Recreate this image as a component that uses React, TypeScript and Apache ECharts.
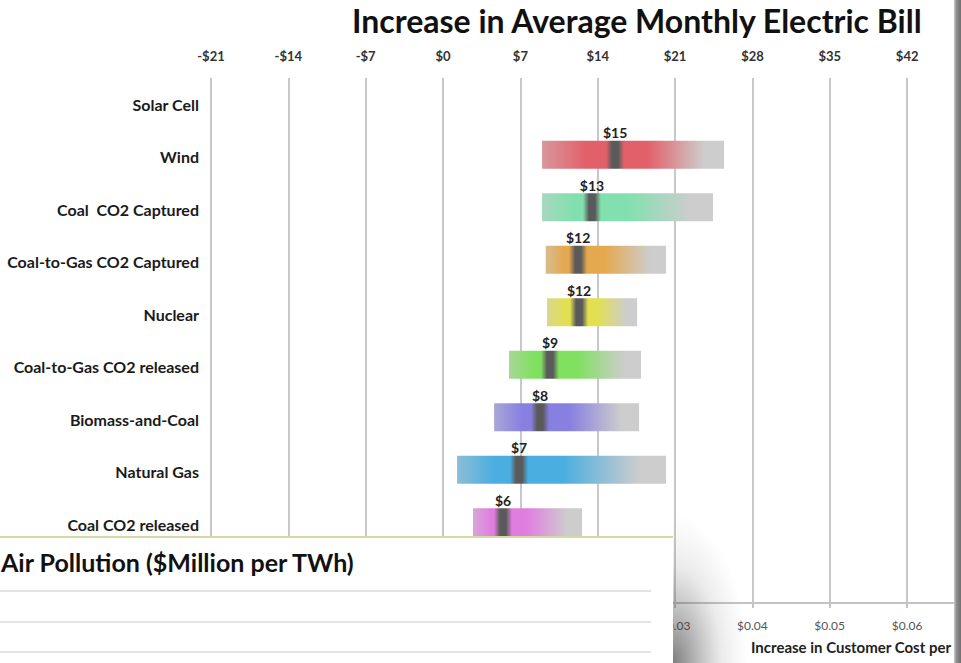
import React, { useEffect, useRef } from "react";
import * as echarts from "echarts";

const categories = [
  "Solar Cell",
  "Wind",
  "Coal  CO2 Captured",
  "Coal-to-Gas CO2 Captured",
  "Nuclear",
  "Coal-to-Gas CO2 released",
  "Biomass-and-Coal",
  "Natural Gas",
  "Coal CO2 released",
  "",
];
const lowValues = [null, 8.96, 8.96, 9.29, 9.41, 5.97, 4.62, 1.27, 2.71];
const midValues = [null, 15.57, 13.48, 12.22, 12.31, 9.68, 8.78, 6.88, 5.43];
const highValues = [null, 25.43, 24.43, 20.18, 17.56, 17.92, 17.74, 20.18, 12.58];
const labelValues = [null, 15, 13, 12, 12, 9, 8, 7, 6];
const barColors = [
  null,
  "#e2606a",
  "#82e0b0",
  "#e4a84e",
  "#e2e04e",
  "#80e060",
  "#8880e0",
  "#4aaee0",
  "#e07ee0",
];
const topTicks = [-21, -14, -7, 0, 7, 14, 21, 28, 35, 42];
const costTicks = [0.03, 0.04, 0.05, 0.06];

const TITLE = "Increase in Average Monthly Electric Bill";
const COST_TITLE = "Increase in Customer Cost per";
const PANEL_TITLE = "Air Pollution ($Million per TWh)";

function mix(hex: string, other: string, t: number) {
  const a = parseInt(hex.slice(1), 16);
  const b = parseInt(other.slice(1), 16);
  const r = Math.round(((a >> 16) & 255) * (1 - t) + ((b >> 16) & 255) * t);
  const g = Math.round(((a >> 8) & 255) * (1 - t) + ((b >> 8) & 255) * t);
  const bl = Math.round((a & 255) * (1 - t) + (b & 255) * t);
  return `rgb(${r},${g},${bl})`;
}

export default function App() {
  const ref = useRef<HTMLDivElement>(null);
  useEffect(() => {
    if (!ref.current) return;
    const chart = echarts.init(ref.current, undefined, { renderer: "svg" });
    const data = categories
      .map((_, i) =>
        lowValues[i] == null
          ? null
          : [lowValues[i], i, highValues[i], midValues[i], labelValues[i]]
      )
      .filter((d) => d != null);

    const renderItem = (params: any, api: any) => {
      const idx = api.value(1);
      const p0 = api.coord([api.value(0), idx]);
      const p1 = api.coord([api.value(2), idx]);
      const pm = api.coord([api.value(3), idx]);
      const color = barColors[idx] as string;
      const h = 28;
      const cy = p0[1] - 2;
      const w = p1[0] - p0[0];
      const off = (px: number) => Math.max(0, Math.min(1, (px - p0[0]) / w));
      const gray = "#cdcdcd";
      const dark = "#5a5a5a";
      const rightLen = p1[0] - pm[0];
      const stops = [
        { offset: 0, color: mix(color, gray, 0.5) },
        { offset: off(p0[0] + (pm[0] - p0[0]) * 0.6), color },
        { offset: off(pm[0] - 9), color },
        { offset: off(pm[0] - 3), color: dark },
        { offset: off(pm[0] + 3), color: dark },
        { offset: off(pm[0] + 9), color },
        { offset: off(pm[0] + rightLen * 0.3), color },
        { offset: off(pm[0] + rightLen * 0.82), color: gray },
        { offset: 1, color: gray },
      ];
      return {
        type: "group",
        children: [
          {
            type: "rect",
            shape: { x: p0[0], y: cy - h / 2, width: w, height: h },
            style: { fill: new echarts.graphic.LinearGradient(0, 0, 1, 0, stops) },
          },
          {
            type: "text",
            style: {
              text: "$" + api.value(4),
              x: pm[0],
              y: cy - h / 2 - 8,
              align: "center",
              verticalAlign: "middle",
              fontFamily: "Lato",
              fontWeight: 700,
              fontSize: 14,
              fill: "#222",
            },
          },
        ],
      };
    };

    chart.setOption({
      animation: false,
      textStyle: { fontFamily: "Lato" },
      title: {
        text: TITLE,
        left: 352,
        top: 4,
        padding: 0,
        textStyle: { fontFamily: "Lato", fontWeight: 700, fontSize: 32, color: "#111" },
      },
      grid: { left: 211, right: 6, top: 78, bottom: 60, containLabel: false },
      xAxis: [
        {
          type: "value",
          position: "top",
          min: topTicks[0],
          max: 46.33,
          interval: 7,
          axisLine: { show: false },
          axisTick: { show: false },
          axisLabel: {
            showMaxLabel: false,
            margin: 16,
            fontFamily: "Lato",
            fontWeight: 700,
            fontSize: 13,
            color: "#333",
            formatter: (v: number) =>
              topTicks.includes(v) ? (v < 0 ? "-$" + Math.abs(v) : "$" + v) : "",
          },
          splitLine: { show: true, lineStyle: { color: "#c8c8c8", width: 2 } },
        },
        {
          type: "value",
          position: "bottom",
          min: -0.03,
          max: 0.0662,
          interval: 0.01,
          axisLine: { show: true, lineStyle: { color: "#c4c4c4", width: 2 } },
          axisTick: { show: true, length: 5, lineStyle: { color: "#c4c4c4", width: 2 } },
          axisLabel: {
            showMaxLabel: false,
            margin: 16,
            fontFamily: "Lato",
            fontSize: 12,
            color: "#555",
            formatter: (v: number) => {
              const r = Math.round(v * 100) / 100;
              return costTicks.includes(r) ? "$" + r.toFixed(2) : "";
            },
          },
          splitLine: { show: false },
        },
      ],
      yAxis: {
        type: "category",
        inverse: true,
        data: categories,
        axisLine: { show: false },
        axisTick: { show: false },
        splitLine: { show: false },
        axisLabel: {
          margin: 12,
          fontFamily: "Lato",
          fontWeight: 700,
          fontSize: 16,
          color: "#1a1a1a",
        },
      },
      series: [
        {
          type: "custom",
          renderItem,
          xAxisIndex: 0,
          yAxisIndex: 0,
          encode: { x: [0, 2, 3], y: 1 },
          data,
          z: 5,
        },
      ],
      graphic: [
        {
          type: "text",
          left: 751,
          top: 639,
          z: 50,
          style: {
            text: COST_TITLE,
            fontFamily: "Lato",
            fontWeight: 700,
            fontSize: 15,
            fill: "#222",
          },
        },
        {
          type: "rect",
          x: 673,
          y: 513,
          scaleX: 0.5,
          shape: { x: 0, y: 0, width: 150, height: 150 },
          z: 90,
          style: {
            fill: new echarts.graphic.RadialGradient(0, 1, 1, [
              { offset: 0, color: "rgba(40,40,40,0.6)" },
              { offset: 0.3, color: "rgba(60,60,60,0.38)" },
              { offset: 0.65, color: "rgba(90,90,90,0.12)" },
              { offset: 1, color: "rgba(120,120,120,0)" },
            ]),
          },
        },
        {
          type: "rect",
          shape: { x: 0, y: 537, width: 673, height: 126 },
          z: 100,
          style: { fill: "#ffffff" },
        },
        {
          type: "line",
          shape: { x1: 0, y1: 537, x2: 673, y2: 537 },
          z: 101,
          style: { stroke: "#d6d9a6", lineWidth: 2 },
        },
        {
          type: "line",
          shape: { x1: 0, y1: 591, x2: 651, y2: 591 },
          z: 101,
          style: { stroke: "#dadada", lineWidth: 1.5 },
        },
        {
          type: "line",
          shape: { x1: 0, y1: 622, x2: 651, y2: 622 },
          z: 101,
          style: { stroke: "#dadada", lineWidth: 1.5 },
        },
        {
          type: "line",
          shape: { x1: 0, y1: 652, x2: 651, y2: 652 },
          z: 101,
          style: { stroke: "#dadada", lineWidth: 1.5 },
        },
        {
          type: "text",
          left: 1,
          top: 549,
          z: 102,
          style: {
            text: PANEL_TITLE,
            fontFamily: "Lato",
            fontWeight: 700,
            fontSize: 25,
            fill: "#111",
          },
        },
        {
          type: "rect",
          shape: { x: 954, y: 0, width: 7, height: 663 },
          z: 110,
          style: {
            fill: new echarts.graphic.LinearGradient(0, 0, 1, 0, [
              { offset: 0, color: "#c8c8c8" },
              { offset: 0.4, color: "#8a8a8a" },
              { offset: 1, color: "#707070" },
            ]),
          },
        },
      ],
    });
    return () => chart.dispose();
  }, []);
  return (
    <div
      ref={ref}
      style={{ position: "fixed", left: 0, top: 0, width: 961, height: 663, background: "#fff" }}
    />
  );
}
